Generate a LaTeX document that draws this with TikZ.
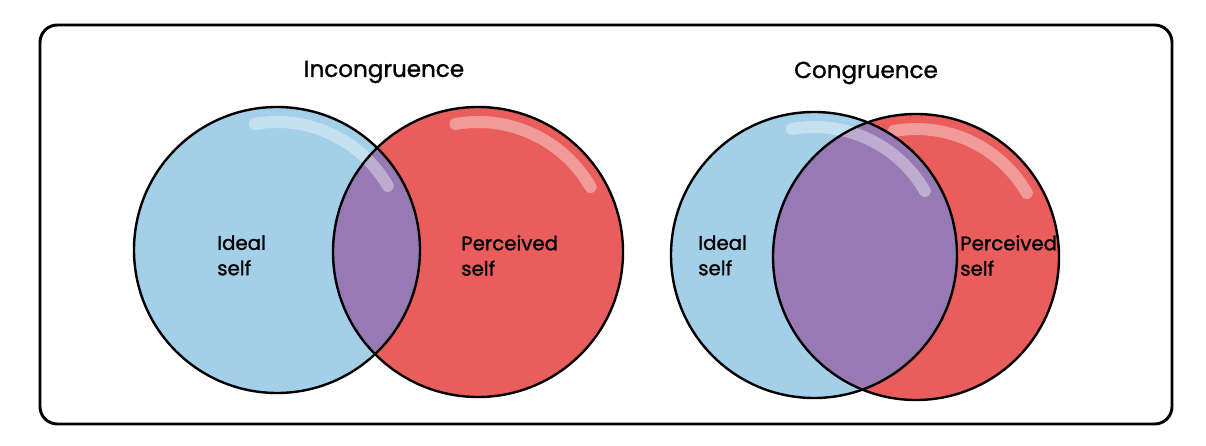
\documentclass[tikz,border=0pt]{standalone}
\usepackage{fontspec}
\setmainfont{Poppins}[UprightFeatures={FakeBold=1.2}]
\usetikzlibrary{positioning}

\definecolor{idealblue}{HTML}{A3CFE8}
\definecolor{perceivedred}{HTML}{E95D5D}
\definecolor{overlappurple}{HTML}{9779B4}

\begin{document}
\begin{tikzpicture}[x=0.75pt,y=0.75pt,
					ring/.style={draw=black,line width=1.8pt},
					shine/.style={white,opacity=0.38,line width=9pt,line cap=round},
					heading/.style={inner sep=0pt,font=\fontsize{17.3}{20}\selectfont},
					selftext/.style={inner sep=0pt,align=left,anchor=north west,font=\fontsize{14.8}{19}\selectfont}
					]
					\useasboundingbox (0,0) rectangle (1206,446);
					\draw[line width=2.2pt,rounded corners=13pt] (40,22) rectangle (1172,421);
					% centres of the four circles
					\coordinate (idealA) at (277,196);
					\coordinate (perceivedA) at (478,194);
					\coordinate (idealB) at (814,191);
					\coordinate (perceivedB) at (916,189);
					% fills
					\fill[idealblue] (idealA) circle (143);
					\fill[perceivedred] (perceivedA) circle (145);
					\begin{scope}
						\clip (idealA) circle (143);
						\fill[overlappurple] (perceivedA) circle (145);
					\end{scope}
					\fill[idealblue] (idealB) circle (143);
					\fill[perceivedred] (perceivedB) circle (143);
					\begin{scope}
						\clip (idealB) circle (143);
						\fill[overlappurple] (perceivedB) circle (143);
					\end{scope}
					% highlights
					\draw[shine] (idealA) ++(100:128) arc[start angle=100,end angle=30,radius=128];
					\draw[shine] (perceivedA) ++(100:130) arc[start angle=100,end angle=30,radius=130];
					\draw[shine] (idealB) ++(100:128) arc[start angle=100,end angle=30,radius=128];
					\draw[shine] (perceivedB) ++(100:128) arc[start angle=100,end angle=30,radius=128];
					% outlines
					\draw[ring] (idealA) circle (143);
					\draw[ring] (perceivedA) circle (145);
					\draw[ring] (idealB) circle (143);
					\draw[ring] (perceivedB) circle (143);
					% texts
					\node[heading] (incongruence) at (384,374) {Incongruence};
					\node[heading] (congruence) at (866,373) {Congruence};
					\node[selftext] (idealselfA) at (217,211) {Ideal\\self};
					\node[selftext] (perceivedselfA) at (461,211) {Perceived\\self};
					\node[selftext] (idealselfB) at (698,211) {Ideal\\self};
					\node[selftext] (perceivedselfB) at (960,211) {Perceived\\self};
\end{tikzpicture}
\end{document}
